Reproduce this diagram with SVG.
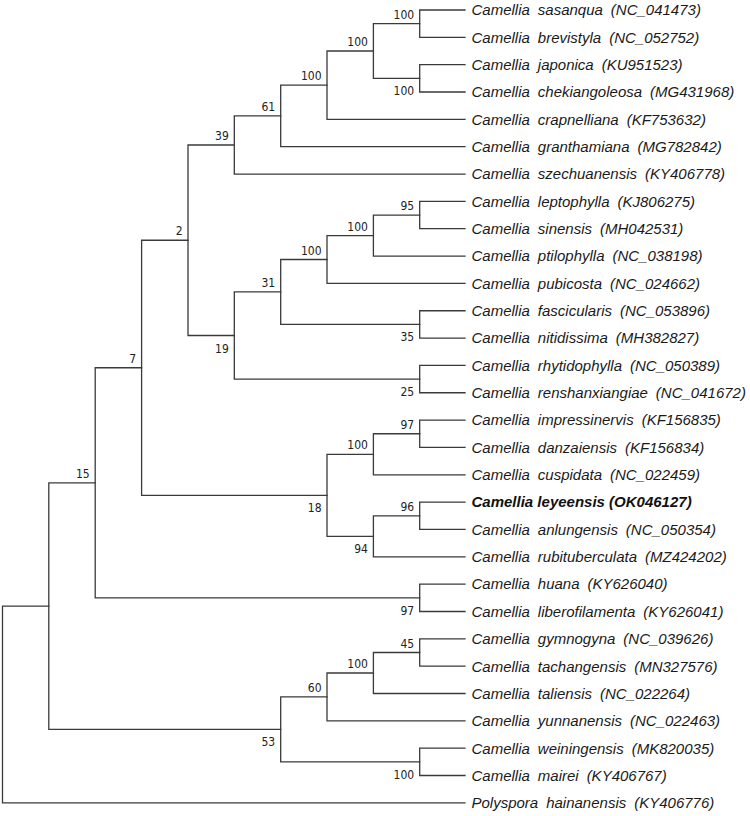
<svg xmlns="http://www.w3.org/2000/svg" width="750" height="816" viewBox="0 0 750 816">
<style>
.br{fill:none;stroke:#3a3a3a;stroke-width:1.3;stroke-linecap:square}
.bs{font-family:"DejaVu Sans Condensed","DejaVu Sans",sans-serif;font-size:12px;fill:#222;text-anchor:end}
.lf{font-family:"Liberation Sans",Arial,sans-serif;font-size:15px;font-style:italic;fill:#1a1a1a;word-spacing:3.8px}
.lb{font-family:"Liberation Sans",Arial,sans-serif;font-size:15px;font-style:italic;font-weight:bold;fill:#111}
</style>
<rect width="750" height="816" fill="#fff"/>
<g id="connectors" class="br">
<path d="M465 10 H419.7 V37.34 H465"/>
<path d="M465 64.68 H419.7 V92.02 H465"/>
<path d="M419.7 23.67 H373.4 V78.35 H419.7"/>
<path d="M373.4 51.01 H327 V119.36 H465"/>
<path d="M327 85.19 H280.7 V146.7 H465"/>
<path d="M280.7 115.94 H234.3 V174.04 H465"/>
<path d="M465 201.38 H419.7 V228.72 H465"/>
<path d="M419.7 215.05 H373.4 V256.06 H465"/>
<path d="M373.4 235.56 H327 V283.4 H465"/>
<path d="M465 310.74 H419.7 V338.08 H465"/>
<path d="M327 259.48 H280.7 V324.41 H419.7"/>
<path d="M465 365.42 H419.7 V392.76 H465"/>
<path d="M280.7 291.95 H234.3 V379.09 H419.7"/>
<path d="M234.3 144.99 H188 V335.52 H234.3"/>
<path d="M465 420.1 H419.7 V447.44 H465"/>
<path d="M419.7 433.77 H373.4 V474.78 H465"/>
<path d="M465 502.12 H419.7 V529.46 H465"/>
<path d="M419.7 515.79 H373.4 V556.8 H465"/>
<path d="M373.4 454.28 H327 V536.3 H373.4"/>
<path d="M188 240.25 H141.6 V495.29 H327"/>
<path d="M465 584.14 H419.7 V611.48 H465"/>
<path d="M141.6 367.77 H95.2 V597.81 H419.7"/>
<path d="M465 638.82 H419.7 V666.16 H465"/>
<path d="M419.7 652.49 H373.4 V693.5 H465"/>
<path d="M373.4 673 H327 V720.84 H465"/>
<path d="M465 748.18 H419.7 V775.52 H465"/>
<path d="M327 696.92 H280.7 V761.85 H419.7"/>
<path d="M95.2 482.79 H48.8 V729.39 H280.7"/>
<path d="M48.8 606.09 H2.5 V802.86 H465"/>
</g>
<g id="support">
<g id="n_a"><text class="bs" x="414.2" y="18.7">100</text></g>
<g id="n_b"><text class="bs" x="414.2" y="95.4">100</text></g>
<g id="n_c"><text class="bs" x="367.9" y="46">100</text></g>
<g id="n_d"><text class="bs" x="321.5" y="80.2">100</text></g>
<g id="n_e"><text class="bs" x="275.2" y="110.9">61</text></g>
<g id="n_f"><text class="bs" x="228.8" y="140">39</text></g>
<g id="n_g"><text class="bs" x="414.2" y="210">95</text></g>
<g id="n_h"><text class="bs" x="367.9" y="230.6">100</text></g>
<g id="n_i"><text class="bs" x="321.5" y="254.5">100</text></g>
<g id="n_j"><text class="bs" x="414.2" y="341.4">35</text></g>
<g id="n_k"><text class="bs" x="275.2" y="287">31</text></g>
<g id="n_l"><text class="bs" x="414.2" y="396.1">25</text></g>
<g id="n_m"><text class="bs" x="228.8" y="352.5">19</text></g>
<g id="n_n"><text class="bs" x="182.5" y="235.2">2</text></g>
<g id="n_o"><text class="bs" x="414.2" y="428.8">97</text></g>
<g id="n_p"><text class="bs" x="367.9" y="449.3">100</text></g>
<g id="n_q"><text class="bs" x="414.2" y="510.8">96</text></g>
<g id="n_r"><text class="bs" x="367.9" y="553.3">94</text></g>
<g id="n_s"><text class="bs" x="321.5" y="512.3">18</text></g>
<g id="n_t"><text class="bs" x="136.1" y="362.8">7</text></g>
<g id="n_u"><text class="bs" x="414.2" y="614.8">97</text></g>
<g id="n_v"><text class="bs" x="89.7" y="477.8">15</text></g>
<g id="n_w"><text class="bs" x="414.2" y="647.5">45</text></g>
<g id="n_x"><text class="bs" x="367.9" y="668">100</text></g>
<g id="n_y"><text class="bs" x="321.5" y="691.9">60</text></g>
<g id="n_z"><text class="bs" x="414.2" y="778.9">100</text></g>
<g id="n_53"><text class="bs" x="275.2" y="746.4">53</text></g>
</g>
<g id="leaves">
<g id="leaf1"><text class="lf" x="471.5" y="15.3">Camellia sasanqua (NC_041473)</text></g>
<g id="leaf2"><text class="lf" x="471.5" y="42.6">Camellia brevistyla (NC_052752)</text></g>
<g id="leaf3"><text class="lf" x="471.5" y="70">Camellia japonica (KU951523)</text></g>
<g id="leaf4"><text class="lf" x="471.5" y="97.3">Camellia chekiangoleosa (MG431968)</text></g>
<g id="leaf5"><text class="lf" x="471.5" y="124.7">Camellia crapnelliana (KF753632)</text></g>
<g id="leaf6"><text class="lf" x="471.5" y="152">Camellia granthamiana (MG782842)</text></g>
<g id="leaf7"><text class="lf" x="471.5" y="179.3">Camellia szechuanensis (KY406778)</text></g>
<g id="leaf8"><text class="lf" x="471.5" y="206.7">Camellia leptophylla (KJ806275)</text></g>
<g id="leaf9"><text class="lf" x="471.5" y="234">Camellia sinensis (MH042531)</text></g>
<g id="leaf10"><text class="lf" x="471.5" y="261.4">Camellia ptilophylla (NC_038198)</text></g>
<g id="leaf11"><text class="lf" x="471.5" y="288.7">Camellia pubicosta (NC_024662)</text></g>
<g id="leaf12"><text class="lf" x="471.5" y="316">Camellia fascicularis (NC_053896)</text></g>
<g id="leaf13"><text class="lf" x="471.5" y="343.4">Camellia nitidissima (MH382827)</text></g>
<g id="leaf14"><text class="lf" x="471.5" y="370.7">Camellia rhytidophylla (NC_050389)</text></g>
<g id="leaf15"><text class="lf" x="471.5" y="398.1">Camellia renshanxiangiae (NC_041672)</text></g>
<g id="leaf16"><text class="lf" x="471.5" y="425.4">Camellia impressinervis (KF156835)</text></g>
<g id="leaf17"><text class="lf" x="471.5" y="452.7">Camellia danzaiensis (KF156834)</text></g>
<g id="leaf18"><text class="lf" x="471.5" y="480.1">Camellia cuspidata (NC_022459)</text></g>
<g id="leaf19"><text class="lb" x="471.5" y="507.4">Camellia leyeensis (OK046127)</text></g>
<g id="leaf20"><text class="lf" x="471.5" y="534.8">Camellia anlungensis (NC_050354)</text></g>
<g id="leaf21"><text class="lf" x="471.5" y="562.1">Camellia rubituberculata (MZ424202)</text></g>
<g id="leaf22"><text class="lf" x="471.5" y="589.4">Camellia huana (KY626040)</text></g>
<g id="leaf23"><text class="lf" x="471.5" y="616.8">Camellia liberofilamenta (KY626041)</text></g>
<g id="leaf24"><text class="lf" x="471.5" y="644.1">Camellia gymnogyna (NC_039626)</text></g>
<g id="leaf25"><text class="lf" x="471.5" y="671.5">Camellia tachangensis (MN327576)</text></g>
<g id="leaf26"><text class="lf" x="471.5" y="698.8">Camellia taliensis (NC_022264)</text></g>
<g id="leaf27"><text class="lf" x="471.5" y="726.1">Camellia yunnanensis (NC_022463)</text></g>
<g id="leaf28"><text class="lf" x="471.5" y="753.5">Camellia weiningensis (MK820035)</text></g>
<g id="leaf29"><text class="lf" x="471.5" y="780.8">Camellia mairei (KY406767)</text></g>
<g id="leaf30"><text class="lf" x="471.5" y="808.2">Polyspora hainanensis (KY406776)</text></g>
</g>
</svg>
